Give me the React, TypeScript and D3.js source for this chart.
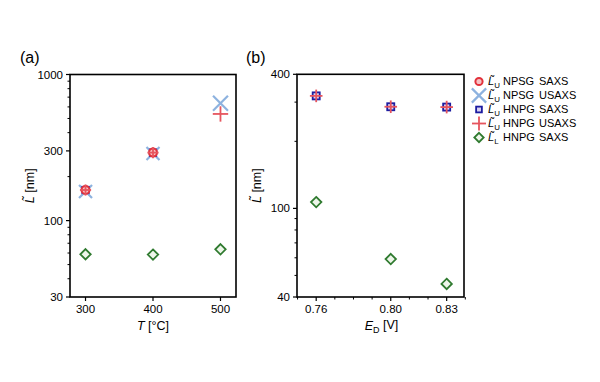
import React from "react";
import * as d3 from "d3";

// Panel (a): temperature series
const tempCats = [300, 400, 500];
const aNpsgSaxs = [162, 292, null];
const aNpsgUsaxs = [158, 288, 635];
const aHnpgSaxs = [162, 292, null];
const aHnpgUsaxs = [162, 292, 537];
const aLower = [58.8, 58.5, 63.6];
const aYTicks = [30, 100, 300, 1000];
const aYMinor = [40, 50, 60, 70, 80, 90, 200, 400, 500, 600, 700, 800, 900];

// Panel (b): potential series
const edCats = [0.76, 0.8, 0.83];
const edLabels = ["0.76", "0.80", "0.83"];
const edMinor = [0.75, 0.77, 0.78, 0.79, 0.81, 0.82, 0.84];
const bHnpgSaxs = [320, 286, 285];
const bHnpgUsaxs = [320, 286, 285];
const bLower = [106.7, 59.2, 45.8];
const bYTicks = [40, 100, 400];
const bYMinor = [50, 60, 70, 80, 90, 200, 300];

const legendNames = ["NPSG", "NPSG", "HNPG", "HNPG", "HNPG"];
const legendMethods = ["SAXS", "USAXS", "SAXS", "USAXS", "SAXS"];
const legendSubs = ["U", "U", "U", "U", "L"];

const FONT = "'Liberation Sans', Arial, sans-serif";
const RED = "#e2323c";
const PINK = "#f6c2c4";
const LBLUE = "#8db2df";
const DBLUE = "#1c1ca0";
const PLUSRED = "#e6555e";
const GREEN = "#2f7a2f";

type MarkerKind = "circle" | "x" | "square" | "plus" | "diamond";

function Marker({ kind, x, y, s = 1 }: { kind: MarkerKind; x: number; y: number; s?: number }) {
  if (kind === "circle")
    return <circle cx={x} cy={y} r={4 * s} fill={PINK} stroke={RED} strokeWidth={2} />;
  if (kind === "x") {
    const h = 6.5 * s;
    return (
      <g stroke={LBLUE} strokeWidth={2.2}>
        <line x1={x - h} y1={y - h} x2={x + h} y2={y + h} />
        <line x1={x - h} y1={y + h} x2={x + h} y2={y - h} />
      </g>
    );
  }
  if (kind === "square") {
    const h = 3.2 * s;
    return <rect x={x - h} y={y - h} width={2 * h} height={2 * h} fill="#d9d2f2" stroke={DBLUE} strokeWidth={1.8} />;
  }
  if (kind === "plus") {
    const h = 7 * s;
    return (
      <g stroke={PLUSRED} strokeWidth={1.8}>
        <line x1={x - h} y1={y} x2={x + h} y2={y} />
        <line x1={x} y1={y - h} x2={x} y2={y + h} />
      </g>
    );
  }
  const h = 5.2 * s;
  return (
    <path
      d={`M${x},${y - h}L${x + h},${y}L${x},${y + h}L${x - h},${y}Z`}
      fill="#eef6ea"
      stroke={GREEN}
      strokeWidth={1.8}
    />
  );
}

function LTilde({ sub, fs }: { sub?: string; fs: number }) {
  return (
    <>
      <tspan fontStyle="italic" fontSize={fs}>L{"\u0303"}</tspan>
      {sub ? (
        <tspan fontSize={fs * 0.72} dy="0.3em">
          {sub}
        </tspan>
      ) : null}
    </>
  );
}

export default function App() {
  const W = 600;
  const H = 382;

  // Panel (a) scales
  const ax = d3.scaleLinear().domain([277, 523]).range([70, 236]);
  const ay = d3.scaleLog().domain([30, 1000]).range([297, 74.5]);
  // Panel (b) scales
  const bx = d3.scaleLinear().domain([0.7497, 0.8393]).range([297, 464]);
  const by = d3.scaleLog().domain([40, 400]).range([297, 74.3]);

  const frame = (x0: number, x1: number, y0: number, y1: number) => (
    <rect x={x0} y={y0} width={x1 - x0} height={y1 - y0} fill="none" stroke="#000" strokeWidth={1.6} />
  );

  return (
    <svg
      width={W}
      height={H}
      style={{ position: "absolute", left: 0, top: 0, background: "#fff" }}
      fontFamily={FONT}
    >
      <rect width={W} height={H} fill="#fff" />

      {/* ---------- Panel (a) ---------- */}
      <text x={20} y={63} fontSize={16}>(a)</text>
      {frame(70, 236, 74.5, 297)}
      {aYTicks.map((t) => (
        <g key={"ay" + t}>
          <line x1={66} x2={70} y1={ay(t)} y2={ay(t)} stroke="#000" strokeWidth={1.2} />
          <text x={63} y={ay(t)} dy="0.35em" fontSize={11.5} textAnchor="end">
            {String(t)}
          </text>
        </g>
      ))}
      {aYMinor.map((t) => (
        <line key={"aym" + t} x1={67.5} x2={70} y1={ay(t)} y2={ay(t)} stroke="#000" strokeWidth={1} />
      ))}
      {tempCats.map((t) => (
        <g key={"ax" + t}>
          <line x1={ax(t)} x2={ax(t)} y1={297} y2={301} stroke="#000" strokeWidth={1.2} />
          <text x={ax(t)} y={313} fontSize={11.5} textAnchor="middle">
            {t}
          </text>
        </g>
      ))}
      <text x={ax(400)} y={330} fontSize={12.5} textAnchor="middle">
        <tspan fontStyle="italic" fontSize={12.5}>T</tspan>
        <tspan fontSize={12.5}> [°C]</tspan>
      </text>
      <text transform={`translate(34,${(74.5 + 297) / 2}) rotate(-90)`} fontSize={12.5} textAnchor="middle">
        <LTilde fs={12.5} />
        <tspan fontSize={12.5}> [nm]</tspan>
      </text>

      {tempCats.map((t, i) =>
        aNpsgUsaxs[i] != null ? <Marker key={"ax1" + i} kind="x" x={ax(t)} y={ay(aNpsgUsaxs[i] as number)} s={i === 2 ? 1.15 : 1} /> : null
      )}
      {tempCats.map((t, i) =>
        aHnpgSaxs[i] != null ? <Marker key={"asq" + i} kind="square" x={ax(t)} y={ay(aHnpgSaxs[i] as number)} /> : null
      )}
      {tempCats.map((t, i) =>
        aNpsgSaxs[i] != null ? <Marker key={"aci" + i} kind="circle" x={ax(t)} y={ay(aNpsgSaxs[i] as number)} /> : null
      )}
      {tempCats.map((t, i) =>
        aHnpgUsaxs[i] != null ? <Marker key={"apl" + i} kind="plus" x={ax(t)} y={ay(aHnpgUsaxs[i] as number)} s={i === 2 ? 1.1 : 0.8} /> : null
      )}
      {tempCats.map((t, i) => (
        <Marker key={"adi" + i} kind="diamond" x={ax(t)} y={ay(aLower[i])} />
      ))}

      {/* ---------- Panel (b) ---------- */}
      <text x={246} y={63} fontSize={16}>(b)</text>
      {frame(297, 464, 74.3, 297)}
      {bYTicks.map((t) => (
        <g key={"by" + t}>
          <line x1={293} x2={297} y1={by(t)} y2={by(t)} stroke="#000" strokeWidth={1.2} />
          <text x={290} y={by(t)} dy="0.35em" fontSize={11.5} textAnchor="end">
            {t}
          </text>
        </g>
      ))}
      {bYMinor.map((t) => (
        <line key={"bym" + t} x1={294.5} x2={297} y1={by(t)} y2={by(t)} stroke="#000" strokeWidth={1} />
      ))}
      {edCats.map((t, i) => (
        <g key={"bx" + t}>
          <line x1={bx(t)} x2={bx(t)} y1={297} y2={301} stroke="#000" strokeWidth={1.2} />
          <text x={bx(t)} y={313} fontSize={11.5} textAnchor="middle">
            {edLabels[i]}
          </text>
        </g>
      ))}
      {edMinor.map((t) => (
        <line key={"bxm" + t} x1={bx(t)} x2={bx(t)} y1={297} y2={299.5} stroke="#000" strokeWidth={1} />
      ))}
      <text x={bx(0.795)} y={330} fontSize={12.5} textAnchor="middle">
        <tspan fontStyle="italic" fontSize={12.5}>E</tspan>
        <tspan fontSize={9} dy="0.3em">D</tspan>
        <tspan fontSize={12.5} dy="-0.3em"> [V]</tspan>
      </text>
      <text transform={`translate(261,${(74.3 + 297) / 2}) rotate(-90)`} fontSize={12.5} textAnchor="middle">
        <LTilde fs={12.5} />
        <tspan fontSize={12.5}> [nm]</tspan>
      </text>

      {edCats.map((t, i) => (
        <Marker key={"bsq" + i} kind="square" x={bx(t)} y={by(bHnpgSaxs[i])} s={1.1} />
      ))}
      {edCats.map((t, i) => (
        <Marker key={"bpl" + i} kind="plus" x={bx(t)} y={by(bHnpgUsaxs[i])} s={0.9} />
      ))}
      {edCats.map((t, i) => (
        <Marker key={"bdi" + i} kind="diamond" x={bx(t)} y={by(bLower[i])} />
      ))}

      {/* ---------- Legend ---------- */}
      {(["circle", "x", "square", "plus", "diamond"] as MarkerKind[]).map((k, i) => {
        const y = 81.5 + i * 14;
        return (
          <g key={"lg" + i}>
            <Marker kind={k} x={479} y={y} s={k === "x" ? 1.1 : k === "plus" ? 1 : 0.9} />
            <text x={488} y={y} dy="0.35em" fontSize={11}>
              <LTilde sub={legendSubs[i]} fs={11} />
            </text>
            <text x={503} y={y} dy="0.35em" fontSize={11}>
              {legendNames[i]}
            </text>
            <text x={539} y={y} dy="0.35em" fontSize={11}>
              {legendMethods[i]}
            </text>
          </g>
        );
      })}
    </svg>
  );
}
